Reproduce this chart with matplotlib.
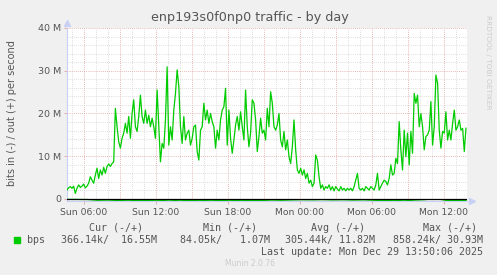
import numpy as np
import matplotlib
matplotlib.use("Agg")
import matplotlib.pyplot as plt

# outbound bps (Mbit/s) at even steps from Sun 04:35 to Mon 13:50
OUT_MBPS = [
    2.1, 2.6, 2.9, 2.5, 3.0, 1.3, 2.5, 3.3, 2.7, 3.0,
    3.5, 2.6, 3.0, 3.7, 5.2, 4.4, 3.7, 5.6, 7.2, 4.8,
    6.8, 5.6, 7.4, 6.0, 7.6, 8.2, 7.6, 8.3, 8.7, 21.2,
    16.9, 13.4, 11.9, 14.2, 15.4, 17.7, 15.4, 19.3, 14.2, 20.0,
    23.2, 16.9, 15.8, 19.3, 24.3, 19.3, 17.7, 20.8, 17.7, 19.6,
    16.9, 18.9, 16.9, 14.2, 25.5, 16.9, 8.7, 13.0, 11.9,
    18.5, 30.93, 12.6, 16.9, 13.8, 20.8, 24.7, 30.2, 26.3, 16.9,
    13.0, 19.3, 13.8, 15.4, 16.1, 12.6, 14.2, 16.9, 17.3, 11.1,
    9.1, 16.1, 16.9, 22.4, 18.5, 20.8, 17.7, 20.0, 18.1, 16.9,
    11.9, 16.1, 13.8, 18.5, 20.8, 21.6, 25.9, 12.6, 20.8, 14.2,
    10.7, 13.8, 17.3, 19.3, 16.1, 20.4, 16.9, 13.8, 25.5, 16.9,
    12.2, 15.4, 23.2, 22.4, 18.5, 11.1, 14.6, 18.9, 15.4, 16.1,
    13.8, 21.2, 16.9,
    25.1, 22.4, 16.9, 16.1, 17.3, 20.0, 13.8, 12.2, 15.8, 11.5,
    13.8, 9.9, 8.3, 12.2, 18.5, 11.5, 6.8, 6.0, 7.2, 5.6,
    6.8, 4.8, 6.0, 3.7, 4.4, 2.9, 3.7, 10.3, 9.1, 5.2,
    2.5, 3.3, 2.1, 2.9, 2.5, 3.3, 2.1, 2.9, 1.9, 2.9,
    2.3, 1.9, 2.9, 2.1, 2.5, 1.9, 2.5, 2.1, 2.5, 1.9,
    2.9, 4.4, 6.0, 2.5, 2.1, 2.5, 1.9, 2.9, 2.5, 2.1,
    2.9, 2.5, 2.1,
    3.3, 6.0, 2.1, 2.9, 3.7, 4.4, 4.1, 3.3, 4.8, 8.0,
    5.6, 6.0, 9.5, 8.3, 18.1, 11.5, 6.8, 16.1, 9.9, 15.4,
    8.0, 15.8, 10.7, 24.7, 22.4, 24.3, 16.9, 20.0, 16.9, 11.5,
    14.6, 15.0, 16.1, 22.8, 12.6, 16.9, 29.0, 27.1, 16.1, 11.9,
    15.8, 15.4, 20.4, 13.8, 16.1, 13.8, 17.7, 20.8, 16.1, 16.9,
    18.5, 16.1, 16.5, 11.1, 16.55,
]
# inbound bps (Mbit/s), drawn negative
IN_MBPS = [
    0.09, 0.10, 0.12, 0.30, 0.25, 0.35, 0.28, 0.40, 0.32, 0.30,
    0.45, 0.28, 0.38, 0.30, 0.42, 0.35, 0.30, 0.40, 0.33, 0.36,
    0.25, 0.30, 0.22, 0.18, 0.20, 0.15, 0.22, 0.18, 0.25, 0.20,
    0.30, 0.35, 0.40, 0.28, 0.45, 0.55, 0.86, 0.40, 0.35, 0.37,
]
T_START, T_END = 4.58, 37.83          # hours since Sun 00:00
XTICK_HOURS = [6, 12, 18, 24, 30, 36]
XTICK_LABELS = ["Sun 06:00", "Sun 12:00", "Sun 18:00",
                "Mon 00:00", "Mon 06:00", "Mon 12:00"]
YTICKS = [0, 10, 20, 30, 40]
YTICK_LABELS = ["0", "10 M", "20 M", "30 M", "40 M"]

LEG_HEAD = ["Cur (-/+)", "Min (-/+)", "Avg (-/+)", "Max (-/+)"]
LEG_VALS = ["366.14k/  16.55M", "84.05k/   1.07M", "305.44k/ 11.82M", "858.24k/ 30.93M"]

GREEN = "#00cc00"
TXT = "#555555"
BG = "#f0f0f0"

W, H = 497, 275
fig = plt.figure(figsize=(W / 100, H / 100), dpi=100, facecolor=BG)
ax = fig.add_axes([67 / W, 74 / H, 400 / W, 173 / H], facecolor="white")

t_out = np.linspace(T_START, T_END, len(OUT_MBPS))
t_in = np.linspace(T_START, T_END, len(IN_MBPS))
x0, x1 = 4.5833, 37.9167
ax.set_xlim(x0, x1)
ax.set_ylim(-0.47, 40)

# grid: minor grey every hour / 2M, major pink every 3h / 10M
for h in np.arange(5, 38, 1):
    major = h % 3 == 0
    ax.axvline(h, color="#e0a0a0" if major else "#d4d4d4", lw=0.6,
               ls=(0, (1, 1.5)), zorder=1)
for v in np.arange(2, 41, 2):
    major = v % 10 == 0
    ax.axhline(v, color="#e0a0a0" if major else "#d4d4d4", lw=0.6,
               ls=(0, (1, 1.5)), zorder=1)

ax.plot(t_out, OUT_MBPS, color=GREEN, lw=0.9, zorder=3)
ax.plot(t_in, [-v for v in IN_MBPS], color=GREEN, lw=0.9, zorder=3)
ax.axhline(0, color="black", lw=0.9, zorder=4)

for s in ("top", "right"):
    ax.spines[s].set_visible(False)
for s in ("left", "bottom"):
    ax.spines[s].set_color("#c8d0f4")
    ax.spines[s].set_linewidth(0.8)
ax.plot([0], [1.03], marker="^", ms=4, color="#c8d0f4", transform=ax.transAxes,
        clip_on=False)
ax.plot([1.012], [0], marker=">", ms=4, color="#c8d0f4", transform=ax.transAxes,
        clip_on=False)

ax.set_xticks(XTICK_HOURS)
ax.set_xticklabels(XTICK_LABELS)
ax.set_yticks(YTICKS)
ax.set_yticklabels(YTICK_LABELS)
ax.tick_params(axis="both", colors="#e0a0a0", length=2, width=0.6,
               labelcolor=TXT, labelsize=6.8, pad=2)
ax.tick_params(axis="x", labelsize=6.7, pad=3)

fig.text(250 / W, 1 - 18 / H, "enp193s0f0np0 traffic - by day", ha="center",
         va="center", fontsize=9.2, color=TXT)
fig.text(12 / W, 1 - 113 / H, "bits in (-) / out (+) per second", rotation=90,
         ha="center", va="center", fontsize=7, color=TXT)
fig.text(488 / W, 1 - 15 / H, "RRDTOOL / TOBI OETIKER", rotation=270,
         ha="center", va="top", fontsize=5.3, color="#cccccc")

mono = dict(family="DejaVu Sans Mono", fontsize=7.2, color=TXT, va="center")
for txt, xr in zip(LEG_HEAD, [143, 257, 365, 477]):
    fig.text(xr / W, 1 - 228 / H, txt, ha="right", **mono)
fig.patches.append(plt.Rectangle((14 / W, 1 - 243 / H), 6 / W, 6 / H,
                                 transform=fig.transFigure, color=GREEN))
fig.text(27 / W, 1 - 240 / H, "bps", ha="left", **mono)
for txt, xr in zip(LEG_VALS, [157, 270, 375, 483]):
    fig.text(xr / W, 1 - 240 / H, txt, ha="right", **mono)
fig.text(483 / W, 1 - 252 / H, "Last update: Mon Dec 29 13:50:06 2025",
         ha="right", **mono)
fig.text(250 / W, 1 - 264 / H, "Munin 2.0.76", ha="center", va="center",
         fontsize=5.5, color="#cccccc")

fig.savefig("out.png", dpi=100, facecolor=BG)
